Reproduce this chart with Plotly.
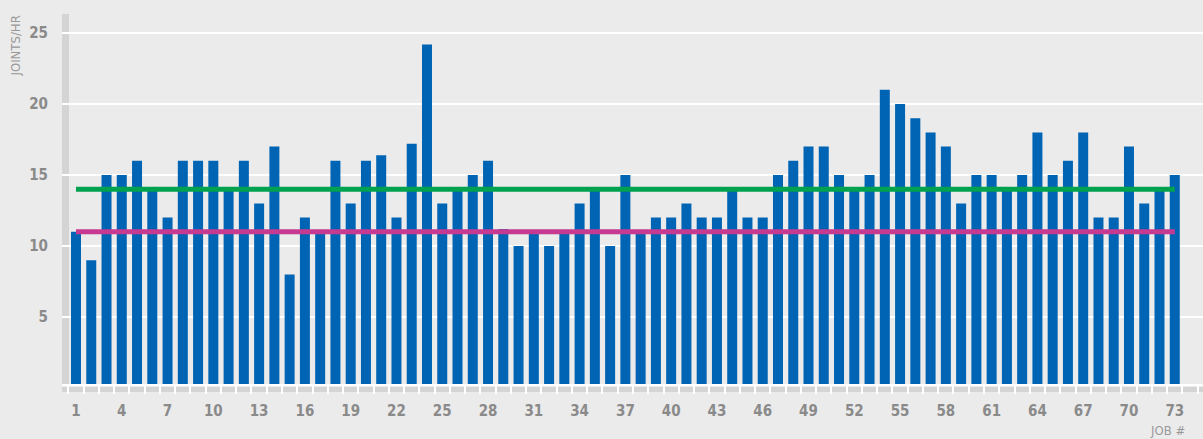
import plotly.graph_objects as go

# ---- data ----
jobs = list(range(1, 74))
joints_per_hr = [11, 9, 15, 15, 16, 14, 12, 16, 16, 16,
                 14, 16, 13, 17, 8, 12, 11, 16, 13, 16,
                 16.4, 12, 17.2, 24.2, 13, 14, 15, 16, 11.2, 10,
                 11, 10, 11, 13, 14, 10, 15, 11, 12, 12,
                 13, 12, 12, 14, 12, 12, 15, 16, 17, 17,
                 15, 14, 15, 21, 20, 19, 18, 17, 13, 15,
                 15, 14, 15, 18, 15, 16, 18, 12, 12, 17,
                 13, 14, 15]
green_level = 14
pink_level = 11
x_tick_vals = list(range(1, 74, 3))
y_tick_vals = [5, 10, 15, 20, 25]

# ---- style ----
BG = "#EBEBEB"
BAR = "#0064B4"
GREEN = "#00A14F"
PINK = "#C63A91"
TXT = "#8A8A8A"
FONT = "DejaVu Sans Condensed, Roboto, sans-serif"

W, H = 1203, 439
L, R, T, B = 62, 0, 14, 55
plot_w = W - L - R
plot_h = H - T - B

fig = go.Figure()
fig.add_trace(go.Bar(x=jobs, y=joints_per_hr, marker=dict(color=BAR, line=dict(width=0)),
                     hoverinfo="x+y"))
fig.add_trace(go.Scatter(x=[jobs[0], jobs[-1]], y=[green_level, green_level], mode="lines",
                         line=dict(color=GREEN, width=5)))
fig.add_trace(go.Scatter(x=[jobs[0], jobs[-1]], y=[pink_level, pink_level], mode="lines",
                         line=dict(color=PINK, width=5)))

shapes = [
    # y-axis gray strip
    dict(type="rect", xref="paper", yref="paper", x0=0, x1=7 / plot_w, y0=0, y1=1,
         fillcolor="#D4D4D4", line=dict(width=0), layer="below"),
    # x-axis gray band
    dict(type="rect", xref="paper", yref="paper", x0=0, x1=1,
         y0=-3 / plot_h, y1=-8 / plot_h,
         fillcolor="#D4D4D4", line=dict(width=0), layer="below"),
]

annotations = [
    dict(text="JOINTS/HR", xref="paper", yref="paper", x=(15 - L) / plot_w, y=1,
         xanchor="center", yanchor="top", textangle=-90, showarrow=False,
         font=dict(family=FONT, size=13, color="#999999")),
    dict(text="JOB #", xref="paper", yref="paper", x=(1167 - L) / plot_w,
         y=-(421 - (T + plot_h)) / plot_h,
         xanchor="center", yanchor="top", showarrow=False,
         font=dict(family=FONT, size=13, color="#999999")),
]

fig.update_layout(
    width=W, height=H,
    margin=dict(l=L, r=R, t=T, b=B, pad=0, autoexpand=False),
    paper_bgcolor=BG, plot_bgcolor=BG,
    showlegend=False,
    bargap=0.345,
    shapes=shapes,
    annotations=annotations,
    xaxis=dict(
        automargin=False,
        range=[0.083, 74.85],
        tickmode="array", tickvals=x_tick_vals, ticktext=[str(v) for v in x_tick_vals],
        ticks="", showgrid=False, zeroline=False,
        showline=True, linecolor="white", linewidth=2,
        ticklabelstandoff=12,
        tickfont=dict(family=FONT, size=15, color=TXT, weight="bold"),
        minor=dict(tick0=0.5, dtick=1, ticks="outside", ticklen=8,
                   tickcolor="white", tickwidth=2, showgrid=False),
        fixedrange=True,
    ),
    yaxis=dict(
        automargin=False,
        range=[0.28, 26.34],
        tickmode="array", tickvals=y_tick_vals, ticktext=[str(v) for v in y_tick_vals],
        ticks="", showgrid=True, gridcolor="white", gridwidth=2,
        zeroline=False, showline=False,
        ticklabelstandoff=13,
        tickfont=dict(family=FONT, size=15, color=TXT, weight="bold"),
        fixedrange=True,
    ),
)

page_js = ("document.body.style.margin='0';document.body.style.padding='0';"
           "document.body.style.overflow='hidden';"
           "document.body.style.background='%s';" % BG)
fig.write_html("out.html", post_script=page_js, config={"displayModeBar": False})
